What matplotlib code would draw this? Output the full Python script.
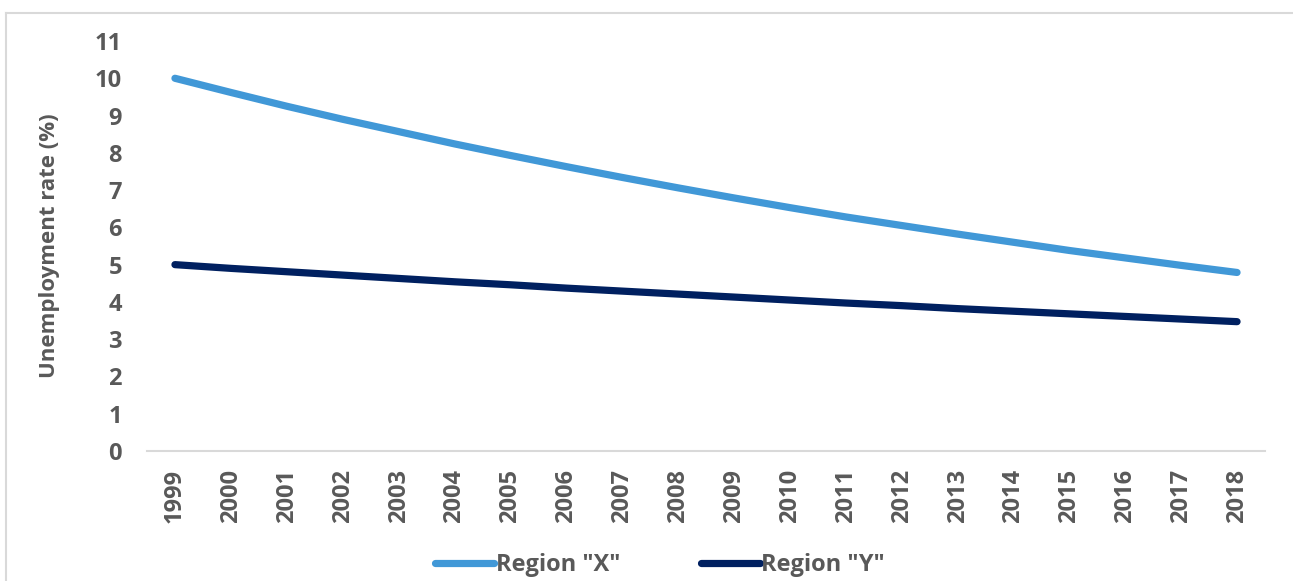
import matplotlib
matplotlib.use("Agg")
import matplotlib.pyplot as plt
from matplotlib.lines import Line2D

years = [str(y) for y in range(1999, 2019)]
region_x = [10.00, 9.62, 9.25, 8.90, 8.57, 8.24, 7.93, 7.63, 7.34, 7.06,
            6.79, 6.53, 6.28, 6.05, 5.82, 5.60, 5.38, 5.18, 4.98, 4.79]
region_y = [5.00, 4.90, 4.81, 4.72, 4.63, 4.54, 4.46, 4.37, 4.29, 4.21,
            4.13, 4.05, 3.97, 3.90, 3.82, 3.75, 3.68, 3.61, 3.54, 3.47]
y_ticks = list(range(0, 12))
series_names = ['Region "X"', 'Region "Y"']

plt.rcParams['font.family'] = ['Open Sans', 'DejaVu Sans']
W, H = 1293, 581
fig = plt.figure(figsize=(W / 100, H / 100), dpi=100)
ax = fig.add_axes([147 / W, 1 - 451 / H, (1265 - 147) / W, (451 - 41) / H])

c_light = '#4198D7'
c_dark = '#002060'
grey = '#595959'
fs = 17

xs = list(range(len(years)))
ax.plot(xs, region_x, color=c_light, lw=5.2, solid_capstyle='round', label=series_names[0])
ax.plot(xs, region_y, color=c_dark, lw=5.2, solid_capstyle='round', label=series_names[1])

ax.set_xlim(-0.5, len(years) - 0.5)
ax.set_ylim(0, 11)
ax.set_yticks(y_ticks)
ax.set_yticklabels([str(t) for t in y_ticks], fontsize=fs, fontweight='bold', color=grey)
ax.set_xticks(xs)
ax.set_xticklabels(years, rotation=90, fontsize=fs, fontweight='bold', color=grey)
ax.tick_params(axis='both', length=0)
ax.tick_params(axis='y', pad=18)
ax.tick_params(axis='x', pad=13)
for s in ['top', 'right', 'left']:
    ax.spines[s].set_visible(False)
ax.spines['bottom'].set_color('#D9D9D9')
ax.spines['bottom'].set_linewidth(1.5)

ax.set_ylabel('Unemployment rate (%)', fontsize=16, fontweight='bold', color=grey)
ax.yaxis.set_label_coords(-87 / (1265 - 147), 0.5)

leg = fig.legend(loc='center', bbox_to_anchor=(660 / W, 1 - 565 / H), ncol=2, frameon=False,
                 handlelength=2.5, handletextpad=0.08, columnspacing=3.4,
                 prop={'size': fs, 'weight': 'bold'})
for t in leg.get_texts():
    t.set_color(grey)

# chart-area border (top and left visible)
fig.add_artist(Line2D([5.5 / W, 1.0], [1 - 12.5 / H, 1 - 12.5 / H], color='#D9D9D9', lw=1.5,
                      transform=fig.transFigure))
fig.add_artist(Line2D([5.5 / W, 5.5 / W], [0, 1 - 12.5 / H], color='#D9D9D9', lw=1.5,
                      transform=fig.transFigure))

fig.savefig('out.png', dpi=100, facecolor='white')
